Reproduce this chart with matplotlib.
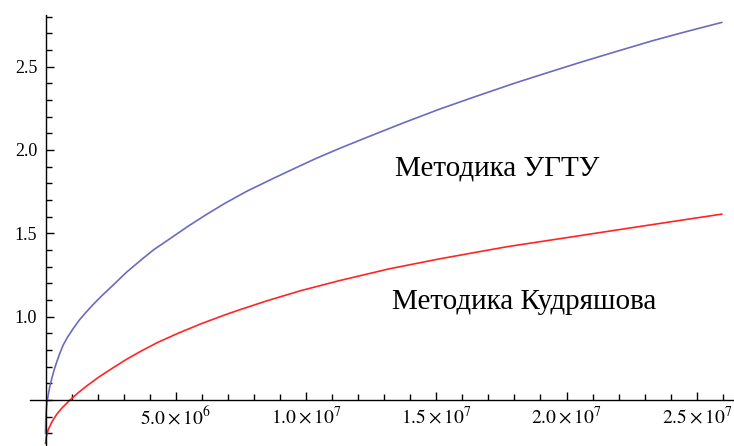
import matplotlib
matplotlib.use('Agg')
import matplotlib.pyplot as plt
import numpy as np

plt.rcParams['font.family'] = ['Liberation Serif', 'DejaVu Serif']
plt.rcParams['mathtext.fontset'] = 'stix'

# values (x in units of 1e6)
ugtu_x = [0, 0.01, 0.03, 0.06, 0.11, 0.17, 0.24, 0.33, 0.43, 0.55, 0.68, 0.85,
          1.07, 1.3, 1.52, 1.8, 2.16, 2.6, 3.1, 3.63, 4.14, 4.8, 5.5, 6.2, 6.89,
          7.7, 8.62, 9.5, 10.4, 11.3, 12.33, 13.7, 15.13, 16.5, 18.0, 19.3,
          20.52, 21.9, 23.3, 24.6, 25.96]
ugtu_y = [0.30, 0.38, 0.44, 0.49, 0.535, 0.585, 0.628, 0.68, 0.728, 0.78, 0.83, 0.878,
          0.93, 0.98, 1.02, 1.068, 1.125, 1.19, 1.265, 1.335, 1.40, 1.47, 1.545, 1.615, 1.68,
          1.75, 1.82, 1.885, 1.95, 2.01, 2.075, 2.16, 2.245, 2.32, 2.40, 2.465,
          2.525, 2.59, 2.655, 2.71, 2.765]

kudr_x = [0, 0.03, 0.11, 0.25, 0.43, 0.65, 0.94, 1.25, 1.58, 2.05, 2.6, 3.1, 3.63,
          4.3, 5.1, 6.0, 7.0, 7.47, 8.5, 9.8, 11.31, 13.2, 15.14, 17.7, 20.39,
          23.2, 25.96]
kudr_y = [0.24, 0.28, 0.324, 0.37, 0.414, 0.455, 0.50, 0.543, 0.584, 0.638, 0.694, 0.743, 0.79,
          0.845, 0.901, 0.959, 1.017, 1.042, 1.095, 1.156, 1.217, 1.287, 1.347, 1.419, 1.483,
          1.55, 1.615]

x_major = [5e6, 1e7, 1.5e7, 2e7, 2.5e7]
x_labels = [r'$5.0\times10^{6}$', r'$1.0\times10^{7}$', r'$1.5\times10^{7}$',
            r'$2.0\times10^{7}$', r'$2.5\times10^{7}$']
y_major = [1.0, 1.5, 2.0, 2.5]
y_labels = ['1.0', '1.5', '2.0', '2.5']

label_ugtu = 'Методика УГТУ'
label_kudr = 'Методика Кудряшова'

fig = plt.figure(figsize=(7.34, 4.46), dpi=100)
ax = fig.add_axes([0, 0, 1, 1])

ax.plot(np.array(ugtu_x) * 1e6, ugtu_y, color='#6b6bc0', lw=1.2)
ax.plot(np.array(kudr_x) * 1e6, kudr_y, color='#ff2525', lw=1.2)

ax.set_xlim(-1.747e6, 26.43e6)
ax.set_ylim(0.224, 2.8995)

# Mathematica-style axes crossing at (0, 0.5)
for s in ['top', 'right']:
    ax.spines[s].set_visible(False)
ax.spines['left'].set_position(('data', 0))
ax.spines['bottom'].set_position(('data', 0.5))
ax.spines['left'].set_bounds(0.224, 2.81)
ax.spines['bottom'].set_bounds(-0.6e6, 26.39e6)
ax.spines['left'].set_linewidth(1.0)
ax.spines['bottom'].set_linewidth(1.0)

ax.set_xticks(x_major)
ax.set_xticklabels(x_labels)
ax.set_xticks(np.arange(1e6, 26.5e6, 1e6), minor=True)
ax.set_yticks(y_major)
ax.set_yticklabels(y_labels)
ax.set_yticks(np.arange(0.3, 2.85, 0.1), minor=True)

ax.tick_params(which='both', direction='in', width=1.0)
ax.tick_params(which='major', length=6)
ax.tick_params(which='minor', length=4)
ax.tick_params(axis='x', which='major', labelsize=14, pad=4)
ax.tick_params(axis='y', which='major', labelsize=13, pad=6)

ax.text(13.4e6, 1.886, label_ugtu, fontsize=21, va='center', ha='left')
ax.text(13.3e6, 1.09, label_kudr, fontsize=21, va='center', ha='left')

plt.savefig('out.png', dpi=100, facecolor='white')
plt.close()
